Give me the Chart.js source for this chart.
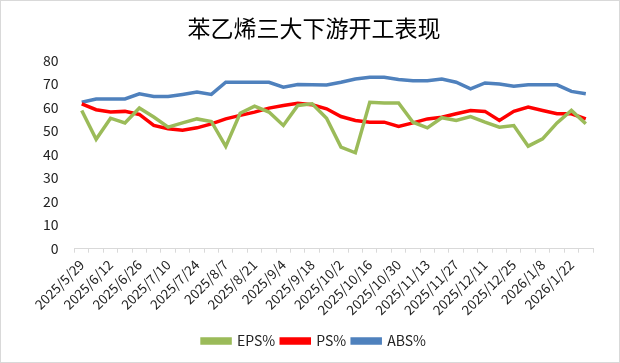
<!DOCTYPE html>
<html>
<head>
<meta charset="utf-8">
<script src="https://cdn.jsdelivr.net/npm/chart.js@4.4.1/dist/chart.umd.min.js"></script>
<style>
  html, body { margin: 0; padding: 0; background: #fff; }
  #wrap { width: 618px; height: 361px; border: 1px solid #d9d9d9; }
</style>
</head>
<body>
<div id="wrap"><canvas id="chart" width="618" height="361"></canvas></div>
<script>
// weekly dates, 2025/5/29 .. 2026/1/29
const dates = [
  '2025/5/29', '2025/6/5', '2025/6/12', '2025/6/19', '2025/6/26', '2025/7/3',
  '2025/7/10', '2025/7/17', '2025/7/24', '2025/7/31', '2025/8/7', '2025/8/14',
  '2025/8/21', '2025/8/28', '2025/9/4', '2025/9/11', '2025/9/18', '2025/9/25',
  '2025/10/2', '2025/10/9', '2025/10/16', '2025/10/23', '2025/10/30', '2025/11/6',
  '2025/11/13', '2025/11/20', '2025/11/27', '2025/12/4', '2025/12/11', '2025/12/18',
  '2025/12/25', '2026/1/1', '2026/1/8', '2026/1/15', '2026/1/22', '2026/1/29'
];

const eps = [
  58.8, 46.5, 55.5, 53.5, 59.8, 56.0, 51.7, 53.5, 55.2, 54.1, 43.5, 57.6,
  60.6, 58.1, 52.4, 60.9, 61.6, 55.5, 43.2, 40.8, 62.3, 62.0, 62.0, 53.8,
  51.4, 55.7, 54.5, 56.2, 53.8, 51.7, 52.4, 43.6, 46.7, 53.5, 58.8, 53.1
];
const ps = [
  61.6, 59.1, 58.1, 58.4, 57.1, 52.4, 51.0, 50.4, 51.4, 53.1, 55.2, 56.7,
  58.1, 59.8, 60.9, 61.8, 61.2, 59.5, 56.2, 54.5, 53.8, 53.8, 52.0, 53.5,
  55.2, 55.9, 57.4, 58.8, 58.4, 54.5, 58.4, 60.2, 58.8, 57.4, 57.4, 55.2
];
const abs = [
  62.3, 63.7, 63.7, 63.7, 65.9, 64.7, 64.7, 65.6, 66.6, 65.6, 70.8, 70.8,
  70.8, 70.8, 68.7, 69.8, 69.7, 69.6, 70.8, 72.2, 72.9, 72.9, 72.0, 71.4,
  71.4, 72.2, 70.8, 68.0, 70.5, 70.0, 69.1, 69.7, 69.7, 69.7, 66.9, 65.9
];

const FONT = '"Noto Sans CJK SC", "Noto Sans", sans-serif';

function line(label, data, color) {
  return {
    label, data,
    borderColor: color,
    backgroundColor: color,
    borderWidth: 3.5,
    pointRadius: 0,
    fill: false,
    tension: 0
  };
}

new Chart(document.getElementById('chart'), {
  type: 'line',
  data: {
    labels: dates,
    datasets: [
      line('EPS%', eps, '#9bbb59'),
      line('PS%', ps, '#ff0000'),
      line('ABS%', abs, '#4f81bd')
    ]
  },
  options: {
    responsive: false,
    animation: false,
    layout: { padding: { left: 34, right: 26, top: 0, bottom: 4 } },
    plugins: {
      tooltip: { enabled: false },
      title: {
        display: true,
        text: '苯乙烯三大下游开工表现',
        color: '#000',
        font: { family: FONT, size: 23, weight: 'normal' },
        padding: { top: 13, bottom: 19 }
      },
      legend: {
        position: 'bottom',
        labels: {
          color: '#222',
          font: { family: FONT, size: 14 },
          boxWidth: 28,
          boxHeight: 4,
          padding: 6
        }
      }
    },
    scales: {
      x: {
        offset: true,
        afterFit: (scale) => { scale.height += 6; },
        grid: {
          offset: true,
          drawOnChartArea: false,
          drawTicks: true,
          tickLength: 4,
          color: '#d9d9d9'
        },
        border: { display: true, color: '#d9d9d9' },
        ticks: {
          autoSkip: false,
          maxRotation: 45,
          minRotation: 45,
          color: '#222',
          font: { family: FONT, size: 13.5 },
          padding: 4,
          callback: function (v, i) { return i % 2 === 0 ? this.getLabelForValue(v) : ''; }
        }
      },
      y: {
        min: 0,
        max: 80,
        grid: { display: false },
        border: { display: false },
        ticks: {
          stepSize: 10,
          color: '#222',
          font: { family: FONT, size: 14 },
          padding: 8
        }
      }
    }
  }
});
</script>
</body>
</html>
